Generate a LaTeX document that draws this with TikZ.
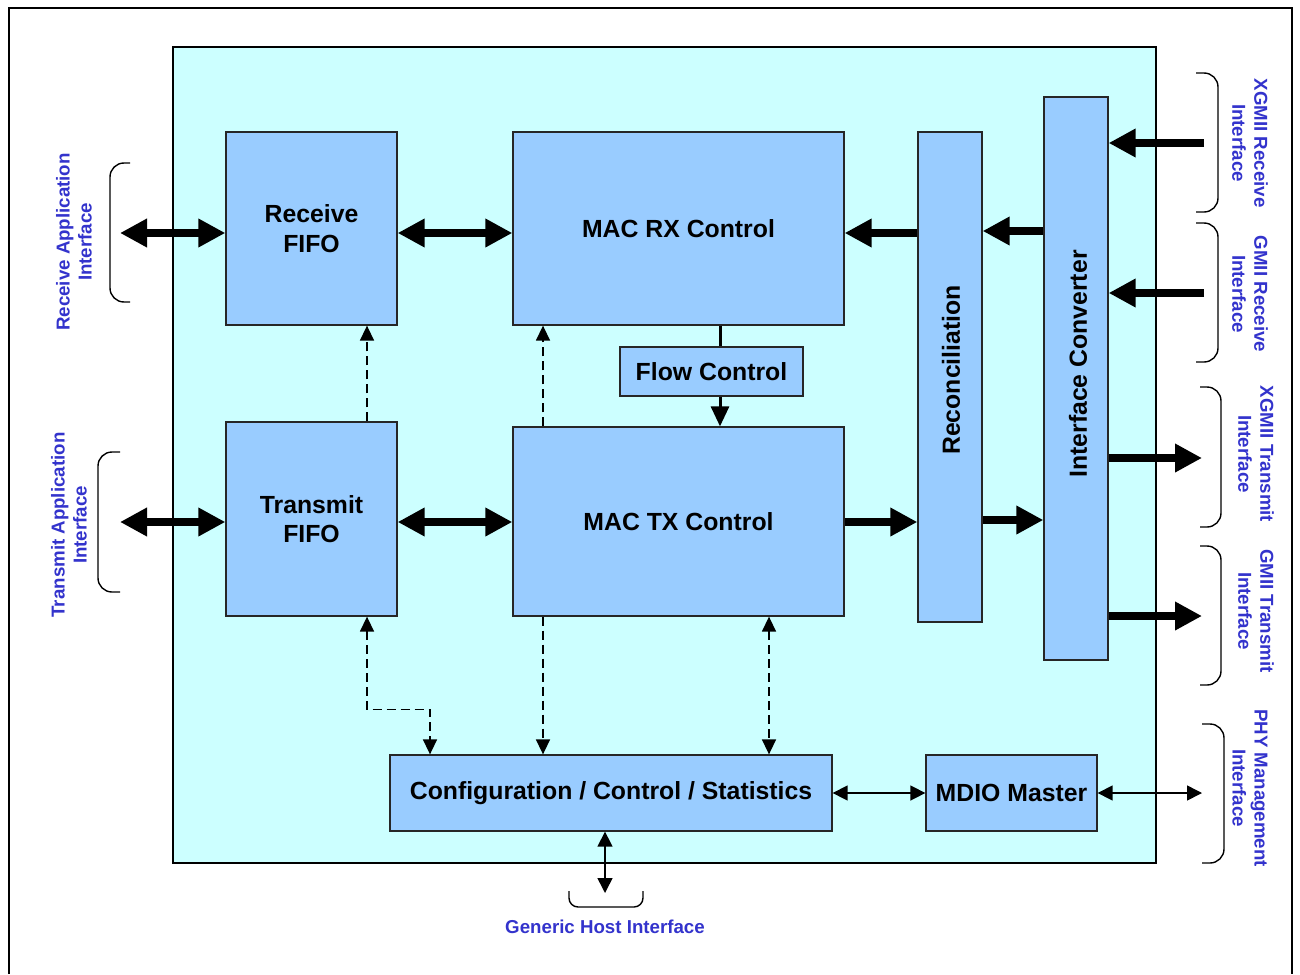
\documentclass[tikz,border=0pt]{standalone}
\usepackage{fontspec}
\setmainfont{Liberation Sans}
\usetikzlibrary{arrows.meta}
\definecolor{chipbg}{HTML}{CCFFFF}
\definecolor{blockfill}{HTML}{99CCFF}
\definecolor{iftext}{HTML}{3333CC}
\tikzset{
  blk/.style={draw=black!85,line width=1.3pt,fill=blockfill,inner sep=0pt,align=center,
    font=\fontsize{24.8}{29.5}\selectfont\bfseries},
  blktxt/.style={inner sep=0pt,font=\fontsize{24.8}{29.5}\selectfont\bfseries},
  iflab/.style={text=iftext,align=center,inner sep=0pt,font=\fontsize{18.7}{22}\selectfont\bfseries},
  fat/.style={line width=7.5pt,>={Triangle[length=27pt,width=27pt]}},
  mid/.style={line width=3pt,>={Triangle[length=20pt,width=18pt]}},
  ctl/.style={line width=1.5pt,dash pattern=on 9pt off 5pt,>={Triangle[length=15pt,width=14pt]}},
  lnk/.style={line width=1.5pt,>={Triangle[length=15pt,width=15pt]}},
  brk/.style={line width=1.4pt,rounded corners=14pt},
}
\newcommand{\mblock}[6]{\node[blk,minimum width=#4pt,minimum height=#5pt] (#1) at (#2,#3) {#6};}
\newcommand{\iflabel}[5]{\node[iflab,rotate=#4] (#1) at (#2,#3) {#5};}

\begin{document}
\begin{tikzpicture}[x=1pt,y=-1pt]
        \useasboundingbox (0,0) rectangle (1300,974);
        % frame
        \draw[line width=2.6pt] (9,974) -- (9,8) -- (1292,8) -- (1292,974);
        % chip
        \draw[line width=1.4pt,fill=chipbg] (173,47) rectangle (1156,863);
        % blocks
        \mblock{rxfifo}{311.5}{228.5}{171}{193}{Receive\\FIFO}
        \mblock{txfifo}{311.5}{519}{171}{194}{Transmit\\FIFO}
        \mblock{macrx}{678.5}{228.5}{331}{193}{MAC RX Control}
        \mblock{mactx}{678.5}{521.5}{331}{189}{MAC TX Control}
        \mblock{flow}{711.5}{371.5}{183}{49}{Flow Control}
        \mblock{recon}{950}{377}{64}{490}{}
        \mblock{ifconv}{1076}{378.5}{64}{563}{}
        \mblock{config}{611}{793}{442}{76}{Configuration / Control / Statistics}
        \mblock{mdio}{1011.5}{793}{171}{76}{MDIO Master}
        \node[blktxt,rotate=90] (recontxt) at (951,370) {Reconciliation};
        \node[blktxt,rotate=90] (ifconvtxt) at (1078,364) {Interface Converter};
        % rows and columns
        \coordinate (rxrow) at (0,233);
        \coordinate (txrow) at (0,522);
        \coordinate (c1) at (367,0);
        \coordinate (c2) at (543,0);
        \coordinate (c3) at (769,0);
        \coordinate (c4) at (430,0);
        \coordinate (fc) at (720,0);
        % outside ends
        \coordinate (rxapp) at (120,233);
        \coordinate (txapp) at (120,522);
        \coordinate (xgmiirx) at (1204,143);
        \coordinate (gmiirx) at (1204,293);
        \coordinate (xgmiitx) at (1202,458);
        \coordinate (gmiitx) at (1202,616);
        \coordinate (phy) at (1202,793);
        \coordinate (host) at (605,893);
        % receive path
        \draw[fat,<->] (rxapp) -- (rxapp -| rxfifo.west);
        \draw[fat,<->] (rxfifo.east |- rxrow) -- (macrx.west |- rxrow);
        \draw[fat,->] (recon.west |- rxrow) -- (macrx.east |- rxrow);
        \draw[fat,->] (ifconv.west |- 0,231) -- (recon.east |- 0,231);
        \draw[fat,->] (xgmiirx) -- (xgmiirx -| ifconv.east);
        \draw[fat,->] (gmiirx) -- (gmiirx -| ifconv.east);
        % transmit path
        \draw[fat,<->] (txapp) -- (txapp -| txfifo.west);
        \draw[fat,<->] (txfifo.east |- txrow) -- (mactx.west |- txrow);
        \draw[fat,->] (mactx.east |- txrow) -- (recon.west |- txrow);
        \draw[fat,->] (recon.east |- 0,520) -- (ifconv.west |- 0,520);
        \draw[fat,->] (xgmiitx -| ifconv.east) -- (xgmiitx);
        \draw[fat,->] (gmiitx -| ifconv.east) -- (gmiitx);
        % flow control
        \draw[mid] (macrx.south -| fc) -- (flow.north -| fc);
        \draw[mid,->] (flow.south -| fc) -- (mactx.north -| fc);
        % control lines
        \draw[ctl,->] (txfifo.north -| c1) -- (rxfifo.south -| c1);
        \draw[ctl,->] (mactx.north -| c2) -- (macrx.south -| c2);
        \draw[ctl,<->] (txfifo.south -| c1) -- ++(0,93) -| (config.north -| c4);
        \draw[ctl,->] (mactx.south -| c2) -- (config.north -| c2);
        \draw[ctl,<->] (mactx.south -| c3) -- (config.north -| c3);
        \draw[lnk,<->] (config) -- (mdio);
        \draw[lnk,<->] (mdio) -- (phy);
        \draw[lnk,<->] (config.south -| host) -- (host);
        % brackets
        \draw[brk] (130,163) -- (110,163) -- (110,302) -- (130,302);
        \draw[brk] (120,452) -- (98,452) -- (98,592) -- (120,592);
        \draw[brk] (1196,73) -- (1218,73) -- (1218,212) -- (1196,212);
        \draw[brk] (1196,223) -- (1218,223) -- (1218,362) -- (1196,362);
        \draw[brk] (1200,387) -- (1221,387) -- (1221,527) -- (1200,527);
        \draw[brk] (1200,546) -- (1221,546) -- (1221,685) -- (1200,685);
        \draw[brk] (1202,724) -- (1224,724) -- (1224,863) -- (1202,863);
        \draw[brk,rounded corners=9pt] (569,891) -- (569,907) -- (643,907) -- (643,891);
        % interface labels
        \iflabel{rxapplab}{74}{242}{90}{Receive Application\\Interface}
        \iflabel{txapplab}{69}{525}{90}{Transmit Application\\Interface}
        \iflabel{xgrxlab}{1250}{143}{-90}{XGMII Receive\\Interface}
        \iflabel{grxlab}{1250}{294}{-90}{GMII Receive\\Interface}
        \iflabel{xgtxlab}{1256}{454}{-90}{XGMII Transmit\\Interface}
        \iflabel{gtxlab}{1256}{611}{-90}{GMII Transmit\\Interface}
        \iflabel{phylab}{1250}{788}{-90}{PHY Management\\Interface}
        \iflabel{hostlab}{605}{927}{0}{Generic Host Interface}
    \end{tikzpicture}
\end{document}
